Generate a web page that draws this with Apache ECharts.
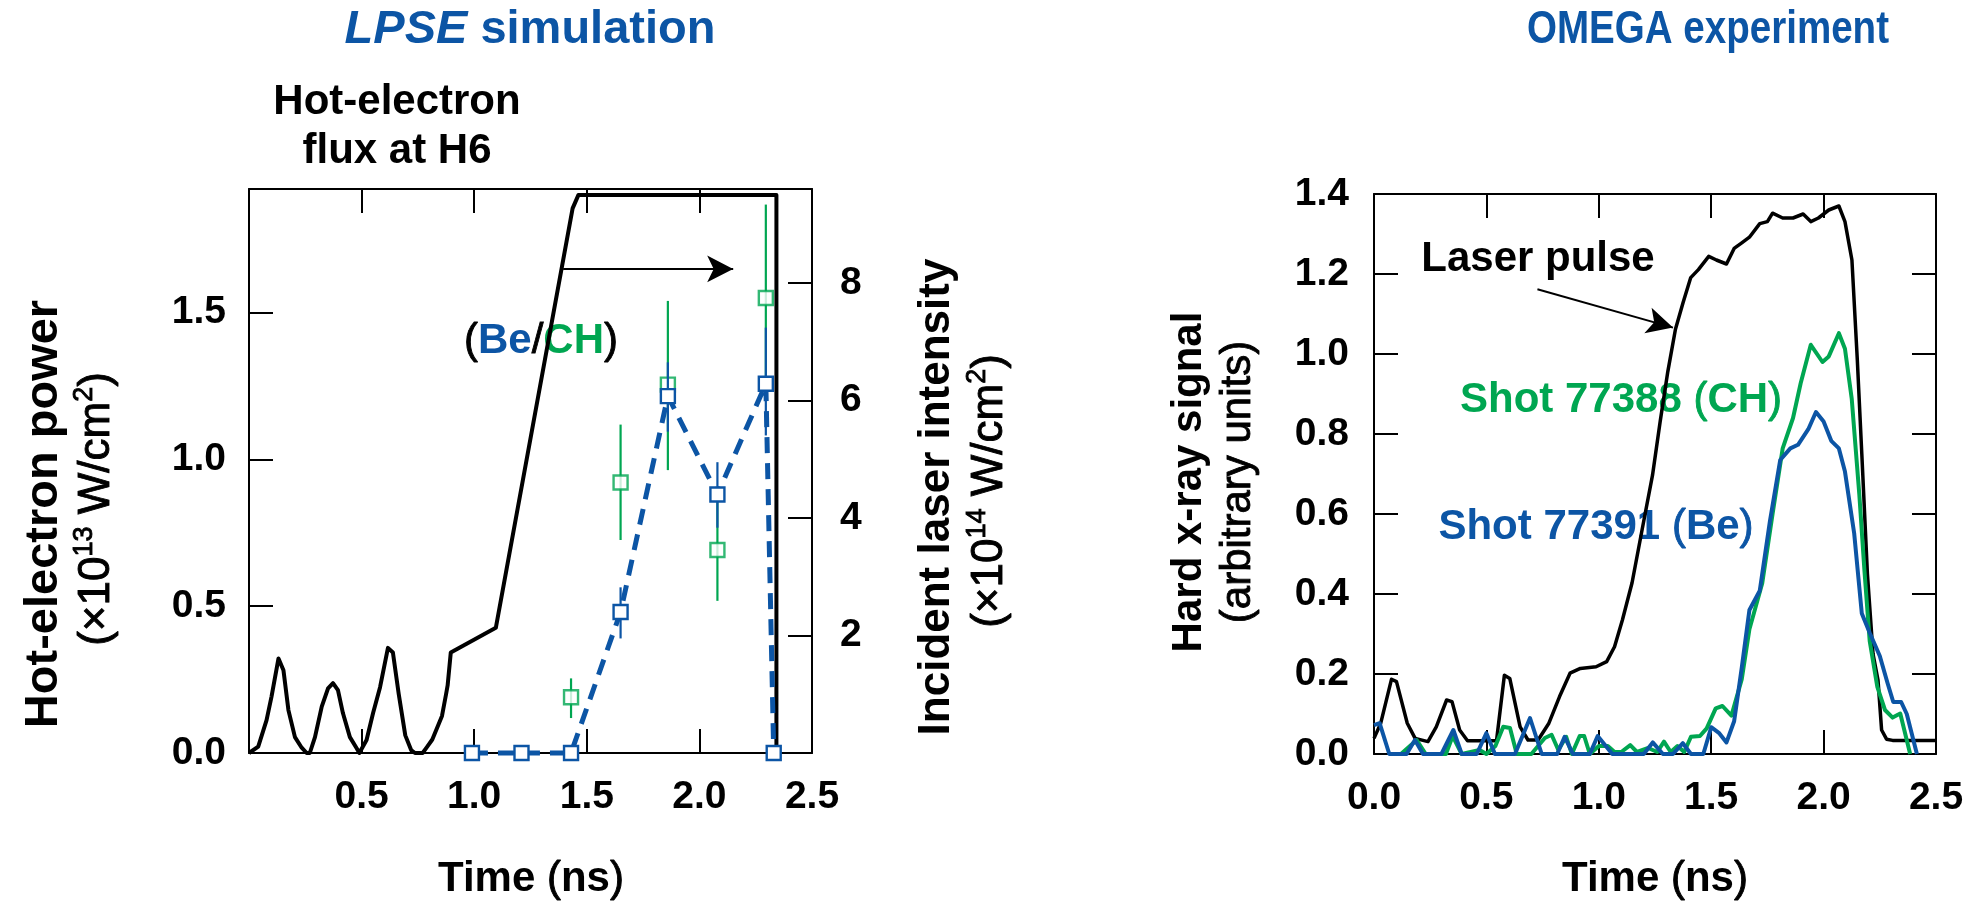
<!DOCTYPE html>
<html><head><meta charset="utf-8">
<script src="https://cdn.jsdelivr.net/npm/echarts@6.0.0/dist/echarts.min.js"></script>
<style>html,body{margin:0;padding:0;background:#fff}#c{width:1973px;height:906px}</style>
</head><body><div id="c"></div>
<script>
// ---------- LPSE simulation (left panel) ----------
// incident laser intensity (×10^14 W/cm^2), right axis
const simLaserT = [0, 0.041, 0.078, 0.1, 0.131, 0.153, 0.175, 0.204, 0.234, 0.256, 0.27,
  0.293, 0.323, 0.351, 0.373, 0.395, 0.417, 0.448, 0.478, 0.49,
  0.522, 0.551, 0.582, 0.617, 0.639, 0.665, 0.694, 0.72, 0.737, 0.771, 0.79, 0.814, 0.857, 0.875, 0.882, 0.896,
  1.096, 1.437, 1.463, 2.342, 2.342];
const simLaserI = [0, 0.11, 0.56, 0.96, 1.61, 1.41, 0.73, 0.27, 0.09, 0, 0,
  0.27, 0.79, 1.1, 1.19, 1.07, 0.68, 0.27, 0.08, 0,
  0.22, 0.68, 1.12, 1.79, 1.71, 1.0, 0.30, 0.05, 0, 0, 0.1, 0.23, 0.63, 1.0, 1.15, 1.71,
  2.13, 9.27, 9.5, 9.5, 0];
// hot-electron power (×10^13 W/cm^2), left axis
const beT  = [0.99, 1.21, 1.43, 1.65, 1.86, 2.08, 2.295, 2.33];
const beP  = [0, 0, 0, 0.48, 1.215, 0.88, 1.257, 0];
const beLo = [null, null, null, 0.39, 1.094, 0.767, 1.081, null];
const beHi = [null, null, null, 0.564, 1.33, 0.99, 1.448, null];
const chT  = [1.43, 1.65, 1.86, 2.08, 2.295];
const chP  = [0.19, 0.921, 1.254, 0.691, 1.549];
const chLo = [0.119, 0.725, 0.963, 0.518, 1.231];
const chHi = [0.254, 1.118, 1.539, 0.864, 1.867];

// ---------- OMEGA experiment (right panel) ----------
const pulseT = [0, 0.03, 0.078, 0.1, 0.148, 0.183, 0.24, 0.277, 0.323, 0.347, 0.381, 0.416, 0.545, 0.58, 0.604, 0.65, 0.685, 0.73,
  0.778, 0.825, 0.872, 0.918, 0.988, 1.035, 1.07, 1.105, 1.148, 1.193, 1.239, 1.273, 1.307, 1.341, 1.375, 1.409, 1.443,
  1.489, 1.523, 1.568, 1.602, 1.636, 1.67, 1.716, 1.75, 1.773, 1.818, 1.864, 1.909, 1.943, 1.977, 2.023, 2.068, 2.095,
  2.126, 2.15, 2.17, 2.195, 2.22, 2.242, 2.258, 2.28, 2.307, 2.5];
const pulseV = [0.039, 0.077, 0.187, 0.181, 0.077, 0.039, 0.031, 0.068, 0.135, 0.131, 0.06, 0.033, 0.033, 0.197, 0.189, 0.068, 0.035, 0.035,
  0.077, 0.143, 0.202, 0.214, 0.218, 0.231, 0.268, 0.335, 0.428, 0.562, 0.697, 0.831, 0.956, 1.062, 1.129, 1.191, 1.211,
  1.244, 1.235, 1.225, 1.264, 1.278, 1.292, 1.326, 1.331, 1.352, 1.34, 1.34, 1.35, 1.331, 1.34, 1.36, 1.37, 1.331,
  1.235, 0.985, 0.75, 0.45, 0.25, 0.185, 0.06, 0.037, 0.034, 0.034];
const chShotT = [0.12, 0.19, 0.23, 0.32, 0.35, 0.39, 0.43, 0.47, 0.5, 0.54, 0.575, 0.605, 0.635, 0.7, 0.76, 0.79, 0.82, 0.855,
  0.88, 0.915, 0.935, 0.96, 1.0, 1.04, 1.07, 1.1, 1.14, 1.17, 1.22, 1.26, 1.29, 1.32, 1.35, 1.38, 1.41, 1.45, 1.48, 1.52,
  1.55, 1.59, 1.636, 1.67, 1.727, 1.773, 1.818, 1.864, 1.898, 1.943, 1.995, 2.023, 2.068, 2.095, 2.125, 2.159, 2.182,
  2.205, 2.239, 2.273, 2.307, 2.341, 2.385];
const chShotV = [0, 0.035, 0, 0, 0.045, 0, 0.005, 0.01, 0, 0.02, 0.068, 0.065, 0, 0, 0.04, 0.048, 0.01, 0.043,
  0, 0.045, 0.045, 0, 0.02, 0.02, 0.005, 0.005, 0.022, 0.005, 0.015, 0.005, 0.031, 0.005, 0.02, 0.005, 0.043, 0.045, 0.064, 0.114,
  0.12, 0.096, 0.187, 0.312, 0.427, 0.6, 0.764, 0.84, 0.927, 1.023, 0.98, 0.994, 1.052, 1.013, 0.889, 0.648, 0.456,
  0.283, 0.168, 0.11, 0.091, 0.101, 0];
const beShotT = [0, 0.025, 0.068, 0.145, 0.182, 0.218, 0.3, 0.353, 0.39, 0.457, 0.5, 0.538, 0.627, 0.694, 0.746, 0.815, 0.848,
  0.885, 0.96, 0.995, 1.06, 1.2, 1.24, 1.285, 1.33, 1.374, 1.41, 1.465, 1.5, 1.534, 1.568, 1.602, 1.636, 1.67, 1.716, 1.761,
  1.807, 1.852, 1.886, 1.932, 1.966, 2.0, 2.034, 2.068, 2.095, 2.136, 2.17, 2.205, 2.25, 2.284, 2.31, 2.345, 2.37, 2.415];
const beShotV = [0.072, 0.077, 0, 0, 0.035, 0, 0, 0.06, 0, 0, 0.052, 0, 0, 0.09, 0, 0, 0.043,
  0, 0, 0.045, 0, 0, 0.029, 0, 0, 0.027, 0, 0, 0.067, 0.053, 0.029, 0.082, 0.216, 0.36, 0.408, 0.581,
  0.735, 0.764, 0.773, 0.812, 0.855, 0.831, 0.783, 0.764, 0.706, 0.552, 0.351, 0.303, 0.245, 0.178, 0.13, 0.13, 0.1, 0];

const xTicks = [0, 0.5, 1.0, 1.5, 2.0, 2.5];

// ---------- styling ----------
const F = '"Liberation Sans", Arial, Helvetica, sans-serif';
const BLUE = '#0c55a5';
const GREEN = '#00a651';
const pairs = (a, b) => a.map((t, i) => [t, b[i]]);

function errBar(color) {
  return function (params, api) {
    const p1 = api.coord([api.value(0), api.value(1)]);
    const p2 = api.coord([api.value(0), api.value(2)]);
    return { type: 'line', shape: { x1: p1[0], y1: p1[1], x2: p2[0], y2: p2[1] },
      style: { stroke: color, lineWidth: 2.2 } };
  };
}

const axLine = { show: true, onZero: false, lineStyle: { color: '#000', width: 2 } };
const tickIn = { show: true, inside: true, length: 24, lineStyle: { color: '#000', width: 2 } };
const lbl = { fontSize: 39, fontWeight: 'bold', fontFamily: F, color: '#000' };

function xAx(grid, pos, labels) {
  return { type: 'value', gridIndex: grid, position: pos, min: xTicks[0], max: xTicks[xTicks.length - 1], interval: 0.5,
    axisLine: axLine, axisTick: tickIn, splitLine: { show: false },
    axisLabel: labels ? Object.assign({ show: true, margin: 25,
      formatter: v => (labels === 'noZero' && v === 0) ? '' : v.toFixed(1) }, lbl) : { show: false } };
}

// rich-text styles
function st(size, weight, color, extra) {
  return Object.assign({ fontSize: size, fontWeight: weight, fontFamily: F, fill: color, color: color }, extra || {});
}
const MED = { stroke: '#000', lineWidth: 0.9 };
function unitRich(size) {
  return {
    n: st(size, 'normal', '#000', Object.assign({ lineHeight: size + 4, verticalAlign: 'bottom' }, MED)),
    s: st(Math.round(size * 0.62), 'normal', '#000', Object.assign({ verticalAlign: 'top' }, MED))
  };
}
function vText(x, y, text, size, weight, rich) {
  const style = { text: text, fontSize: size, fontWeight: weight, fontFamily: F, fill: '#000',
    align: 'center', verticalAlign: 'middle' };
  if (rich) style.rich = rich;
  return { type: 'text', x: x, y: y, rotation: Math.PI / 2, style: style };
}
function hText(x, y, text, rich, extra) {
  return Object.assign({ type: 'text', x: x, y: y,
    style: { text: text, align: 'center', verticalAlign: 'middle', rich: rich } }, extra || {});
}

const option = {
  animation: false,
  backgroundColor: '#fff',
  grid: [
    { left: 249, top: 189, width: 563, height: 564 },
    { left: 1374, top: 194, width: 562, height: 560 }
  ],
  xAxis: [ xAx(0, 'bottom', 'noZero'), xAx(0, 'top', null), xAx(1, 'bottom', 'all'), xAx(1, 'top', null) ],
  yAxis: [
    { type: 'value', gridIndex: 0, position: 'left', min: 0, max: 1.92, interval: 0.5,
      axisLine: axLine, axisTick: tickIn, splitLine: { show: false },
      axisLabel: Object.assign({ margin: 23, showMaxLabel: false, formatter: v => v.toFixed(1) }, lbl) },
    { type: 'value', gridIndex: 0, position: 'right', min: 0, max: 9.6, interval: 2,
      axisLine: axLine, axisTick: tickIn, splitLine: { show: false },
      axisLabel: Object.assign({ margin: 28, showMaxLabel: false, formatter: v => v === 0 ? '' : String(v) }, lbl) },
    { type: 'value', gridIndex: 1, position: 'left', min: 0, max: 1.4, interval: 0.2,
      axisLine: axLine, axisTick: tickIn, splitLine: { show: false },
      axisLabel: Object.assign({ margin: 25, formatter: v => v.toFixed(1) }, lbl) },
    { type: 'value', gridIndex: 1, position: 'right', min: 0, max: 1.4, interval: 0.2,
      axisLine: axLine, axisTick: tickIn, splitLine: { show: false }, axisLabel: { show: false } }
  ],
  series: [
    { type: 'line', name: 'Laser (sim)', xAxisIndex: 0, yAxisIndex: 1, data: pairs(simLaserT, simLaserI),
      showSymbol: false, symbol: 'none', clip: false, lineStyle: { color: '#000', width: 4, join: 'round' }, z: 3,
      markLine: { silent: true, symbol: ['none', 'arrow'], symbolSize: [20, 26], label: { show: false },
        lineStyle: { color: '#000', width: 2, type: 'solid' },
        data: [[{ coord: [1.395, 8.24] }, { coord: [2.15, 8.24] }]] } },
    { type: 'custom', xAxisIndex: 0, yAxisIndex: 0, data: chT.map((t, i) => [t, chLo[i], chHi[i]]),
      renderItem: errBar(GREEN), z: 4, silent: true },
    { type: 'scatter', xAxisIndex: 0, yAxisIndex: 0, data: pairs(chT, chP), symbol: 'rect', symbolSize: 14,
      itemStyle: { color: '#fff', borderColor: GREEN, borderWidth: 2.4 }, z: 5, clip: false },
    { type: 'custom', xAxisIndex: 0, yAxisIndex: 0,
      data: beT.map((t, i) => [t, beLo[i], beHi[i]]).filter(d => d[1] !== null),
      renderItem: errBar(BLUE), z: 6, silent: true },
    { type: 'line', xAxisIndex: 0, yAxisIndex: 0, data: pairs(beT, beP), symbol: 'rect', symbolSize: 14, showSymbol: true,
      clip: false, lineStyle: { color: BLUE, width: 5, type: [16, 10] },
      itemStyle: { color: '#fff', borderColor: BLUE, borderWidth: 2.4 }, z: 7 },

    { type: 'line', xAxisIndex: 2, yAxisIndex: 2, data: pairs(pulseT, pulseV), symbol: 'none', clip: false,
      lineStyle: { color: '#000', width: 3.5, join: 'round' }, z: 3,
      markLine: { silent: true, symbol: ['none', 'arrow'], symbolSize: [20, 26], label: { show: false },
        lineStyle: { color: '#000', width: 2, type: 'solid' },
        data: [[{ coord: [0.727, 1.162] }, { coord: [1.33, 1.066] }]] } },
    { type: 'line', xAxisIndex: 2, yAxisIndex: 2, data: pairs(chShotT, chShotV), symbol: 'none', clip: false,
      lineStyle: { color: GREEN, width: 4, join: 'round' }, z: 4 },
    { type: 'line', xAxisIndex: 2, yAxisIndex: 2, data: pairs(beShotT, beShotV), symbol: 'none', clip: false,
      lineStyle: { color: BLUE, width: 4, join: 'round' }, z: 5 }
  ],
  graphic: [
    hText(530, 30, '{i|LPSE}{r| simulation}', {
      i: st(47, 'bold', BLUE, { fontStyle: 'italic' }), r: st(47, 'bold', BLUE) }),
    hText(1708, 30, '{r|OMEGA experiment}', { r: st(47, 'bold', BLUE) }, { scaleX: 0.82 }),
    { type: 'text', x: 397, y: 127, style: { text: 'Hot-electron\nflux at H6', fontSize: 42, fontWeight: 'bold', fontFamily: F,
      fill: '#000', align: 'center', verticalAlign: 'middle', lineHeight: 49 } },
    hText(541, 341, '{k|(}{b|Be}{k|/}{g|CH}{k|)}', {
      k: st(42, 'normal', '#000', MED), b: st(42, 'bold', BLUE), g: st(42, 'bold', GREEN) }),
    vText(44, 514, 'Hot-electron power', 47, 'bold'),
    vText(95, 509, '{n|(×10}{s|13}{n| W/cm}{s|2}{n|)}', 44, 'normal', unitRich(44)),
    vText(937, 497, 'Incident laser intensity', 44, 'bold'),
    vText(988, 491, '{n|(×10}{s|14}{n| W/cm}{s|2}{n|)}', 44, 'normal', unitRich(44)),
    vText(1189, 482, 'Hard x-ray signal', 42, 'bold'),
    vText(1238, 482, '{n|(arbitrary units)}', 42, 'normal', { n: st(42, 'normal', '#000', MED) }),
    hText(531, 879, '{b|Time }{p|(}{b|ns}{p|)}', { b: st(42, 'bold', '#000'), p: st(42, 'normal', '#000', MED) }),
    hText(1655, 879, '{b|Time }{p|(}{b|ns}{p|)}', { b: st(42, 'bold', '#000'), p: st(42, 'normal', '#000', MED) }),
    hText(1538, 259, '{b|Laser pulse}', { b: st(42, 'bold', '#000') }),
    hText(1621, 400, '{b|Shot 77388 }{p|(}{b|CH}{p|)}', {
      b: st(42, 'bold', GREEN), p: st(42, 'normal', GREEN, { stroke: GREEN, lineWidth: 0.9 }) }),
    hText(1596, 527, '{b|Shot 77391 }{p|(}{b|Be}{p|)}', {
      b: st(42, 'bold', BLUE), p: st(42, 'normal', BLUE, { stroke: BLUE, lineWidth: 0.9 }) })
  ]
};
const chart = echarts.init(document.getElementById('c'), null, { renderer: 'canvas' });
chart.setOption(option);
</script></body></html>
